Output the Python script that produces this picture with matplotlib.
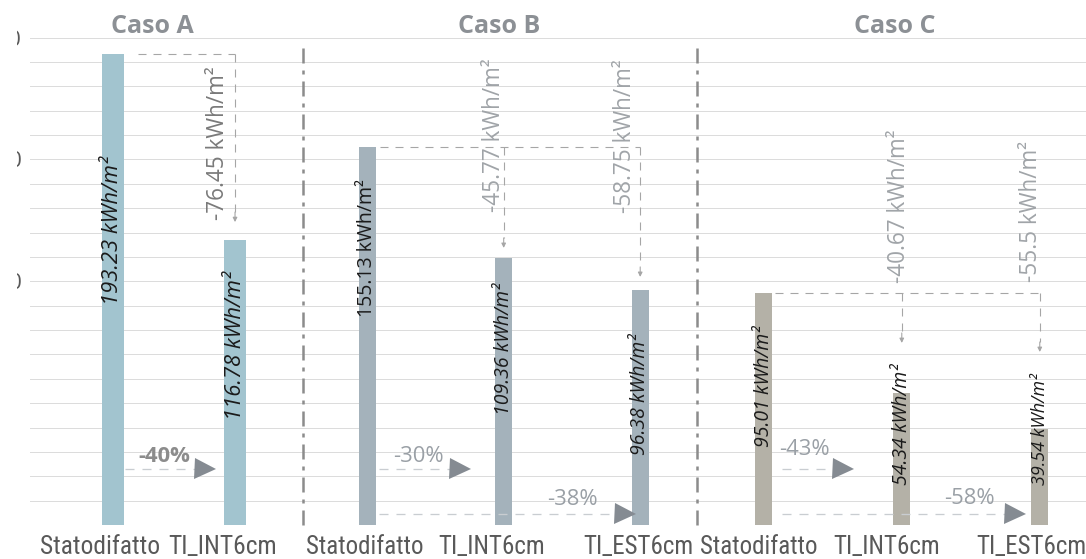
import matplotlib
matplotlib.use("Agg")
import matplotlib.pyplot as plt
from matplotlib import font_manager
from matplotlib.lines import Line2D
from matplotlib.patches import Rectangle
from matplotlib.transforms import ScaledTranslation

# ---- data -------------------------------------------------------------
cases = ["Caso A", "Caso B", "Caso C"]
categories_a = ["Statodifatto", "TI_INT6cm"]
categories_bc = ["Statodifatto", "TI_INT6cm", "TI_EST6cm"]
values_a = [193.23, 116.78]
values_b = [155.13, 109.36, 96.38]
values_c = [95.01, 54.34, 39.54]
savings_a = [-76.45]
savings_b = [-45.77, -58.75]
savings_c = [-40.67, -55.5]
y_labels = [100, 150, 200]

# ---- fonts --------------------------------------------------------------
plt.rcParams["lines.scale_dashes"] = False
ttf = font_manager.fontManager.ttflist
styles = {(f.name, f.style) for f in ttf}
names = {f.name for f in ttf}
SANS = "Open Sans" if "Open Sans" in names else "DejaVu Sans"
if ("Open Sans", "italic") in styles:
    ITALIC, ISCALE = "Open Sans", 1.0
else:
    ITALIC, ISCALE = "DejaVu Sans", 0.92

# a narrow face for the category labels, if one is installed
NARROW, NSTRETCH, NSCALE = SANS, "normal", 0.76
narrow_pref = ["Liberation Sans Narrow", "Roboto Condensed", "Open Sans Condensed",
               "DejaVu Sans Condensed"]
for n in narrow_pref:
    if n in names:
        NARROW, NSTRETCH, NSCALE = n, "normal", 1.0
        break
else:
    for f in ttf:
        if f.stretch in ("condensed", "semi-condensed", "extra-condensed") and f.style == "normal":
            NARROW, NSTRETCH, NSCALE = f.name, f.stretch, 0.88
            break

# ---- figure geometry (pixels, dpi 72 so 1pt == 1px) --------------------
W, H = 1086, 559
BASE_PX, TOP_PX = 525, 37.6
YMAX = 200
fig = plt.figure(figsize=(W / 72, H / 72), dpi=72)
fig.patch.set_facecolor("white")

layout = [
    dict(values=values_a, cats=categories_a, savings=savings_a, span=(30, 303),
         xlim=(-0.680, 1.557), width=0.18, color="#A2C4CF",
         vstart=[90.3, 43.1], vsize=[22, 22], vital=[True, True],
         dstart=[125.2], doff=[-17], dcolor="#7A7A7A",
         tips=[124.3], hstart=0.205,
         pct_xy=[(0.418, 28.3)], pct_arrow=[(23.0, 0.098, 0.836)],
         pct_weight="bold", pct_color="#8C8C8C", title_x=0.447,
         tick_size=25.5, tick_dx=[-13, -12]),
    dict(values=values_b, cats=categories_bc, savings=savings_b, span=(303, 697),
         xlim=(-0.470, 2.416), width=0.125, color="#A4B2BB",
         vstart=[85.3, 45.1, 28.7], vsize=[19.5, 19.5, 19.5], vital=[False, True, True],
         dstart=[128.4, 128.0], doff=[-10, -15], dcolor="#A0A4A8",
         tips=[113.7, 101.8], hstart=0.094,
         pct_xy=[(0.379, 28.3), (1.50, 10.3)],
         pct_arrow=[(23.0, 0.086, 0.753), (4.5, 0.086, 1.962)],
         pct_weight="normal", pct_color="#9AA0A6", title_x=0.497,
         tick_size=25, tick_dx=[-2, -12, -2]),
    dict(values=values_c, cats=categories_bc, savings=savings_c, span=(697, 1086),
         xlim=(-0.484, 2.335), width=0.123, color="#B4B1A7",
         vstart=[32.0, 16.4, 16.4], vsize=[19.5, 19.5, 18], vital=[True, True, True],
         dstart=[99.3, 99.7], doff=[-3, -9], dcolor="#A0A4A8",
         tips=[74.7, 71.0], hstart=0.081,
         pct_xy=[(0.291, 30.8), (1.487, 10.7)],
         pct_arrow=[(23.0, 0.132, 0.646), (4.5, 0.132, 1.893)],
         pct_weight="normal", pct_color="#9AA0A6", title_x=0.509,
         tick_size=25, tick_dx=[-5, -15, -8]),
]

px_per_unit = (BASE_PX - TOP_PX) / YMAX
DASH_GREY = "#A6A6A6"

for i, (title, L) in enumerate(zip(cases, layout)):
    x0, x1 = L["span"]
    ax = fig.add_axes([x0 / W, (H - BASE_PX) / H, (x1 - x0) / W, (BASE_PX - TOP_PX) / H])
    ax.set_xlim(*L["xlim"])
    ax.set_ylim(0, YMAX)
    for s in ax.spines.values():
        s.set_visible(False)
    ax.set_yticks(range(0, YMAX + 1, 10))
    ax.yaxis.grid(True, color="#DCDCDC", lw=1)
    ax.set_axisbelow(True)
    ax.tick_params(axis="both", length=0)
    if i == 0:
        ax.set_yticklabels([str(v) if v in y_labels else "" for v in range(0, YMAX + 1, 10)],
                           fontsize=22, color="#595959", family=SANS)
        ax.tick_params(axis="y", pad=8)
    else:
        ax.set_yticklabels([])

    xs = list(range(len(L["values"])))
    ax.bar(xs, L["values"], width=L["width"], color=L["color"], zorder=2)
    ax.set_xticks(xs)
    ax.set_xticklabels(L["cats"], fontsize=L["tick_size"] * NSCALE, color="#595959",
                       family=NARROW, fontstretch=NSTRETCH)
    ax.tick_params(axis="x", pad=10)
    for lab, dx in zip(ax.get_xticklabels(), L["tick_dx"]):
        lab.set_transform(lab.get_transform() + ScaledTranslation(dx / 72, 0, fig.dpi_scale_trans))

    # value labels inside the bars
    for x, v, st, sz, it in zip(xs, L["values"], L["vstart"], L["vsize"], L["vital"]):
        ax.text(x, st, f"{v:.2f} kWh/m²", rotation=90, rotation_mode="anchor",
                ha="left", va="center", color="#1A1A1A", zorder=4,
                fontsize=sz * (ISCALE if it else 1.0),
                family=ITALIC if it else SANS, style="italic" if it else "normal")

    # connector from the baseline bar to the improved scenarios
    base = L["values"][0]
    ax.plot([L["hstart"], xs[-1]], [base, base], color=DASH_GREY, lw=1.1,
            dashes=(8, 7), zorder=3)
    for x, tip, ds, off, sv in zip(xs[1:], L["tips"], L["dstart"], L["doff"], L["savings"]):
        ax.plot([x, x], [base, tip + 10 / px_per_unit], color=DASH_GREY, lw=1.1,
                dashes=(8, 7), zorder=3)
        ax.annotate("", xy=(x, tip), xytext=(0, 10), textcoords="offset points",
                    arrowprops=dict(arrowstyle="-|>", color=DASH_GREY, lw=1.1,
                                    mutation_scale=9, shrinkA=0, shrinkB=0))
        ax.annotate(f"{sv:g} kWh/m²", xy=(x, ds), xytext=(off, 0), textcoords="offset points",
                    rotation=90, rotation_mode="anchor", ha="left", va="center",
                    fontsize=22.5, color=L["dcolor"], family=SANS, zorder=4)

    # percentage reduction arrows
    spacing_px = (x1 - x0) / (L["xlim"][1] - L["xlim"][0])
    for sv, (px, py), (ay, ax0, ax1) in zip(L["savings"], L["pct_xy"], L["pct_arrow"]):
        tri = 20 / spacing_px
        ax.plot([ax0, ax1 - tri], [ay, ay], color="#C9CDD1", lw=1.3, dashes=(9, 8), zorder=3)
        ax.plot([ax1 - tri / 2], [ay], marker=">", ms=21, color="#858B92", mew=0, zorder=3)
        pct = round(100 * sv / base)
        ax.text(px, py, f"{pct}%", ha="center", va="center", fontsize=22,
                color=L["pct_color"], weight=L["pct_weight"], family=SANS, zorder=4)

    ax.text(L["title_x"], 1 + (TOP_PX - 33) / (BASE_PX - TOP_PX), title,
            transform=ax.transAxes, ha="center", va="baseline", fontsize=25,
            weight="bold", color="#8C9095", family=SANS)

# dash-dot separators between the three cases
for xs_px in (303, 697):
    fig.add_artist(Line2D([xs_px / W, xs_px / W], [(H - BASE_PX) / H, (H - 45) / H],
                          transform=fig.transFigure, color="#8C8C8C", lw=2.5,
                          dashes=(15, 7, 4, 7)))

# trimmed left margin
fig.add_artist(Rectangle((0, 0), 17 / W, 1, transform=fig.transFigure,
                         facecolor="white", edgecolor="none", zorder=10))

fig.savefig("out.png", dpi=72, facecolor="white")
